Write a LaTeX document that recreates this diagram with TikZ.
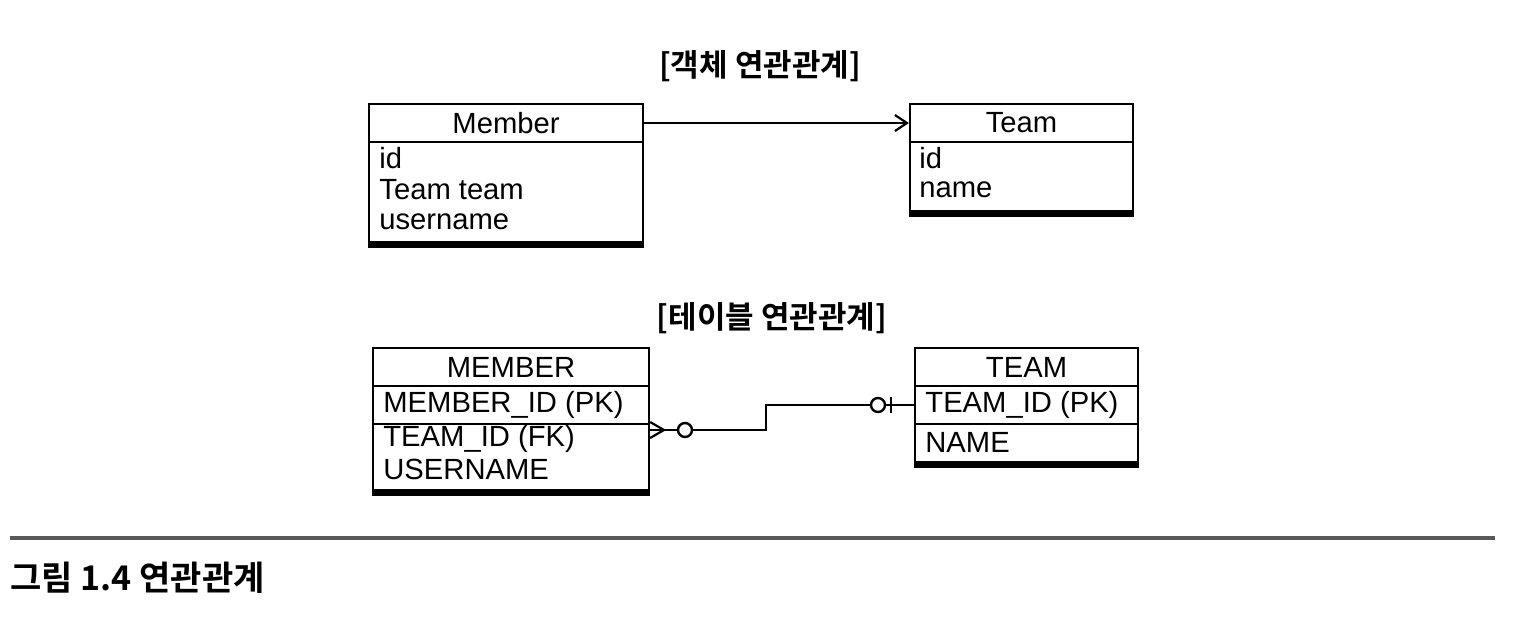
\documentclass[tikz,border=0pt]{standalone}
\usepackage{fontspec}
\setmainfont{Liberation Sans}
\newfontfamily\kr{Noto Sans CJK KR}[BoldFont={* Bold}]
\usetikzlibrary{fit,arrows.meta}
\begin{document}
\begin{tikzpicture}[x=0.5pt,y=-0.5pt,
  box/.style={draw, line width=1.1pt, inner sep=0pt},
  part/.style={draw, line width=1.1pt, inner sep=0pt},
  shadowline/.style={line width=2.4pt},
  fld/.style={anchor=west, inner sep=0pt, font=\fontsize{14.6pt}{16pt}\selectfont},
  hdr/.style={inner sep=0pt, font=\fontsize{14.6pt}{16pt}\selectfont},
  ttl/.style={inner sep=0pt, font=\kr\bfseries\fontsize{15.5pt}{17pt}\selectfont},
  er/.style={draw, circle, line width=1.2pt, minimum size=7pt, inner sep=0pt},
  conn/.style={line width=1.1pt}]
\useasboundingbox (0,0) rectangle (1530,618);

% ----- object association -----
\node[ttl] (t1) at (760,66) {[객체 연관관계]};

\node[box, fit={(369,104)(643,242)}] (member) {};
\node[part, fit={(369,104)(643,142)}] (memberH) {};
\node[hdr] (memberT) at (memberH.center) {Member};
\node[fld] (m1) at (379,158) {id};
\node[fld] (m2) at (379,190) {Team team};
\node[fld] (m3) at (379,222) {username};
\draw[shadowline] ([yshift=-1pt]member.south west) -- ([yshift=-1pt]member.south east);

\node[box, fit={(910,104)(1133,211)}] (team) {};
\node[part, fit={(910,104)(1133,142)}] (teamH) {};
\node[hdr] (teamT) at (teamH.center) {Team};
\node[fld] (tm1) at (919,158) {id};
\node[fld] (tm2) at (919,190) {name};
\draw[shadowline] ([yshift=-1pt]team.south west) -- ([yshift=-1pt]team.south east);

\draw[conn, -{Straight Barb[length=6pt,width=8pt,line width=1.1pt]}] (memberH.east) -- (teamH.west);

% ----- table association -----
\node[ttl] (t2) at (772,318) {[테이블 연관관계]};

\node[box, fit={(373,348)(649,490)}] (MEMBER) {};
\node[part, fit={(373,348)(649,386)}] (MEMBERH) {};
\node[part, fit={(373,386)(649,424)}] (MEMBERPK) {};
\node[hdr] (MEMBERT) at (MEMBERH.center) {MEMBER};
\node[fld] (M1) at (383,405) {MEMBER\_ID (PK)};
\node[fld] (M2) at (383,439) {TEAM\_ID (FK)};
\node[fld] (M3) at (383,469) {USERNAME};
\draw[shadowline] ([yshift=-1pt]MEMBER.south west) -- ([yshift=-1pt]MEMBER.south east);

\node[box, fit={(915,348)(1138,462)}] (TEAM) {};
\node[part, fit={(915,348)(1138,386)}] (TEAMH) {};
\node[part, fit={(915,386)(1138,424)}] (TEAMPK) {};
\node[hdr] (TEAMT) at (TEAMH.center) {TEAM};
\node[fld] (T1) at (925,405) {TEAM\_ID (PK)};
\node[fld] (T2) at (925,442) {NAME};
\draw[shadowline] ([yshift=-1pt]TEAM.south west) -- ([yshift=-1pt]TEAM.south east);

% ER connector
\coordinate (a) at (MEMBER.east |- 0,430);
\coordinate (b) at (TEAMPK.west);
\node[er] (c1) at (685,430) {};
\node[er] (c2) at (878,405) {};
\draw[conn] (a) -- (c1.west);
\draw[conn] ([yshift=-4pt]a) -- (664,430) -- ([yshift=4pt]a);
\draw[conn] (c1.east) -- (766,430) -- (766,405) -- (c2.west);
\draw[conn] (c2.east) -- (b);
\draw[conn] (891,397) -- (891,413);

% caption
\draw[line width=2pt, black!65] (10,538) -- (1495,538);
\node[ttl, anchor=west, font=\kr\bfseries\fontsize{17pt}{19pt}\selectfont] (cap) at (10,578) {그림 1.4 연관관계};
\end{tikzpicture}
\end{document}
